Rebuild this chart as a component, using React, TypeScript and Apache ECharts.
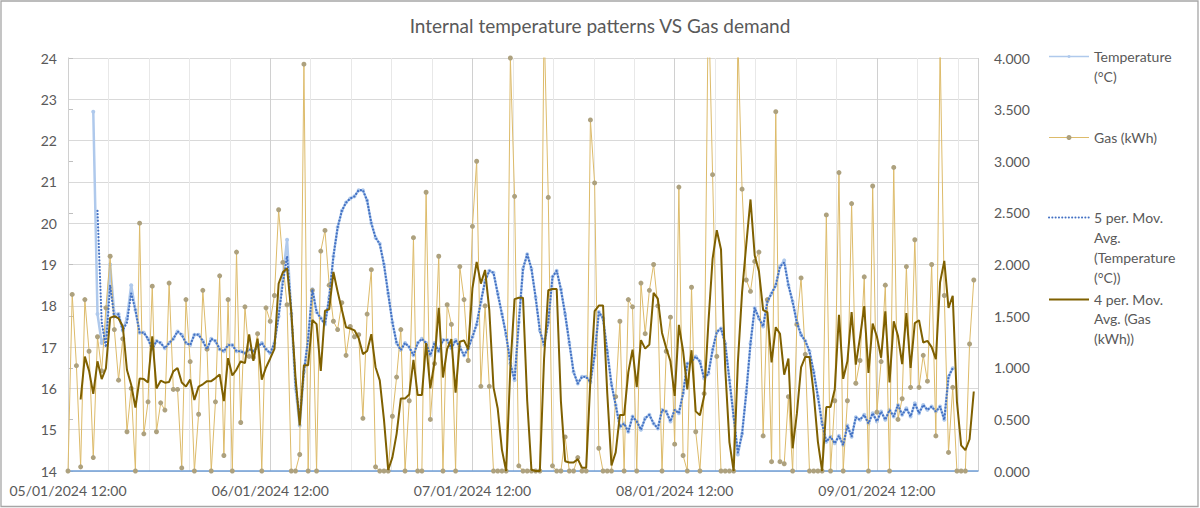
import React, { useEffect, useRef } from "react";
import * as echarts from "echarts";

// ---- data ----
const dayLabels = [
  "05/01/2024 12:00",
  "06/01/2024 12:00",
  "07/01/2024 12:00",
  "08/01/2024 12:00",
  "09/01/2024 12:00",
];
const hoursPerDay = 24;
const stepHours = 0.5; // one reading every 30 minutes
const axisMaxHours = 108;
const minorGridHours = 4.8;

// Gas (kWh), one value per half hour
const gas: number[] = [
  0, 1.71, 1.02, 0.04, 1.66, 1.16, 0.13, 1.3, 0.97, 1.58,
  2.08, 1.37, 0.88, 1.28, 0.38, 0.8, 0, 2.4, 0.36, 0.67,
  1.79, 0.38, 0.66, 0.59, 1.82, 0.79, 0.79, 0.03, 1.66, 1.06,
  0, 0.55, 1.75, 1.18, 0, 0.67, 1.89, 0.15, 1.66, 0,
  2.12, 0.47, 1.59, 1.11, 1.1, 1.33, 0, 1.58, 1.45, 1.7,
  2.53, 2.02, 1.61, 0, 0, 0.16, 3.94, 0, 1.75, 0,
  2.13, 2.33, 1.8, 1.45, 1.37, 1.63, 1.12, 1.4, 1.3, 1.32,
  0.51, 1.52, 1.95, 0.04, 0, 0, 0, 0.53, 0.91, 1.37,
  0, 0.68, 2.26, 0, 0, 2.7, 0.5, 1.04, 2.08, 0,
  1.61, 1.42, 0, 1.98, 1.66, 1.07, 2.37, 3.0, 0.82, 1.6,
  0.82, 0, 0, 0, 0, 4.0, 2.66, 0.05, 0, 0,
  0, 0, 0, 4.35, 2.65, 0.05, 0, 0, 0.33, 0,
  0, 0.13, 0, 0, 3.4, 2.79, 0.22, 0, 0, 0,
  0.72, 1.45, 0, 1.66, 1.59, 0, 1.82, 1.33, 1.75, 2.0,
  1.6, 0, 1.16, 1.49, 0.26, 2.75, 0.15, 0, 1.78, 0.38,
  0, 0.75, 4.6, 2.87, 1.11, 0, 0, 0, 0, 4.2,
  2.73, 1.85, 1.74, 2.03, 2.12, 0.34, 1.66, 0.09, 3.48, 0.09,
  0.07, 0.72, 0, 1.42, 1.87, 1.13, 0, 0, 0, 0,
  2.48, 0, 0.68, 2.89, 0, 0.68, 2.59, 0.85, 1.07, 1.88,
  0, 2.76, 0.57, 1.06, 1.8, 0, 2.94, 0.5, 0.7, 1.98,
  0.81, 2.24, 0.81, 1.12, 0.87, 2.0, 0.34, 4.1, 1.7, 0.18,
  0.81, 0, 0, 0, 1.23, 1.85,
];

// Temperature (°C), same half-hour steps; readings start later
const temperature: (number | null)[] = [
  null, null, null, null, null, null, 22.7, 17.8, 17.1, 17.3,
  19.0, 17.8, 17.8, 17.4, 17.7, 18.5, 17.9, 17.35, 17.35, 17.2,
  16.95, 17.15, 17.1, 16.97, 17.1, 17.2, 17.38, 17.3, 17.1, 17.05,
  17.3, 17.3, 17.15, 16.95, 17.2, 17.15, 16.95, 16.9, 17.05, 17.05,
  16.9, 16.9, 16.85, 16.95, 16.9, 17.0, 17.1, 16.95, 16.85, 17.1,
  17.75, 18.7, 19.6, 17.8, 16.0, 15.1, 16.4, 17.2, 18.4, 17.85,
  17.7, 17.55, 18.2, 19.2, 19.9, 20.3, 20.5, 20.6, 20.65, 20.8,
  20.8, 20.55, 20.0, 19.65, 19.5, 19.0, 18.3, 17.6, 17.1, 16.93,
  17.1, 17.0, 16.8, 17.1, 17.2, 17.1, 16.8, 17.1, 16.9, 17.17,
  17.17, 16.97, 17.17, 17.0, 16.8, 16.97, 17.25, 17.55, 18.1, 18.6,
  18.85, 18.8, 18.3, 17.8, 17.3, 16.6, 16.2, 17.6, 18.9, 19.25,
  18.9, 18.2, 17.4, 17.05, 17.6, 18.7, 18.85, 18.4, 17.8, 17.1,
  16.4, 16.12, 16.28, 16.28, 16.15, 16.8, 17.85, 17.7, 16.9, 16.1,
  15.6, 15.07, 15.15, 14.95, 15.32, 15.2, 15.0, 15.28, 15.36, 15.15,
  15.03, 15.48, 15.44, 15.2, 15.48, 15.4, 15.88, 16.6, 16.65, 16.77,
  16.65, 16.24, 16.36, 16.93, 17.37, 17.45, 17.09, 16.2, 15.32, 14.4,
  14.9, 15.9, 17.09, 17.95, 17.7, 17.5, 18.1, 18.3, 18.5, 18.95,
  19.1, 18.5, 18.1, 17.6, 17.3, 17.15, 16.9, 16.4, 15.8, 15.15,
  14.71, 14.83, 14.67, 14.85, 14.63, 15.1, 14.83, 15.3, 15.24, 15.36,
  15.15, 15.4, 15.2, 15.44, 15.24, 15.48, 15.32, 15.6, 15.36, 15.52,
  15.32, 15.64, 15.4, 15.6, 15.48, 15.56, 15.44, 15.56, 15.24, 16.28,
  16.49,
];

// 5 per. moving average of temperature as drawn in the reference
const temperatureAvg5: (number | null)[] = [
  null, null, null, null, null, null, null, 20.3, 17.6, 17.0,
  18.5, 17.7, 17.8, 17.4, 17.6, 18.3, 17.9, 17.35, 17.35, 17.2,
  16.95, 17.15, 17.1, 16.97, 17.1, 17.2, 17.38, 17.3, 17.1, 17.05,
  17.3, 17.3, 17.15, 16.95, 17.2, 17.15, 16.95, 16.9, 17.05, 17.05,
  16.9, 16.9, 16.85, 16.95, 16.9, 17.0, 17.1, 16.95, 16.85, 17.1,
  17.75, 18.55, 19.2, 17.9, 16.1, 15.3, 16.4, 17.2, 18.4, 17.85,
  17.7, 17.55, 18.2, 19.2, 19.9, 20.3, 20.5, 20.6, 20.65, 20.8,
  20.8, 20.55, 20.0, 19.65, 19.5, 19.0, 18.3, 17.6, 17.1, 16.93,
  17.1, 17.0, 16.8, 17.1, 17.2, 17.1, 16.8, 17.1, 16.9, 17.17,
  17.17, 16.97, 17.17, 17.0, 16.8, 16.97, 17.25, 17.55, 18.1, 18.6,
  18.85, 18.8, 18.3, 17.8, 17.3, 16.6, 16.2, 17.6, 18.9, 19.25,
  18.9, 18.2, 17.4, 17.05, 17.6, 18.7, 18.85, 18.4, 17.8, 17.1,
  16.4, 16.12, 16.28, 16.28, 16.15, 16.8, 17.85, 17.7, 16.9, 16.1,
  15.6, 15.07, 15.15, 14.95, 15.32, 15.2, 15.0, 15.28, 15.36, 15.15,
  15.03, 15.48, 15.44, 15.2, 15.48, 15.4, 15.88, 16.6, 16.65, 16.77,
  16.65, 16.24, 16.36, 16.93, 17.37, 17.45, 17.09, 16.2, 15.32, 14.45,
  14.9, 15.9, 17.09, 17.95, 17.7, 17.5, 18.1, 18.3, 18.5, 18.95,
  19.05, 18.5, 18.1, 17.6, 17.3, 17.15, 16.9, 16.4, 15.8, 15.15,
  14.71, 14.83, 14.67, 14.85, 14.63, 15.1, 14.83, 15.3, 15.24, 15.36,
  15.15, 15.4, 15.2, 15.44, 15.24, 15.48, 15.32, 15.6, 15.36, 15.52,
  15.32, 15.64, 15.4, 15.6, 15.48, 15.56, 15.44, 15.56, 15.24, 16.28,
  16.49,
];

const gasAvgPeriod = 4;

const legendTexts = [
  "Temperature\n(°C)",
  "Gas (kWh)",
  "5 per. Mov.\nAvg.\n(Temperature\n(°C))",
  "4 per. Mov.\nAvg. (Gas\n(kWh))",
];

// ---- styling ----
const FONT = "Lato, 'Open Sans', sans-serif";
const TEXT_COLOR = "#595959";
const TEMP_COLOR = "#AFC9EC";
const GAS_LINE = "#DDBB6A";
const GAS_MARK = "#ADA17E";
const TEMP_AVG_COLOR = "#4472C4";
const GAS_AVG_COLOR = "#7F6000";

function trailingAverage(values: number[], period: number): (number | null)[] {
  return values.map((_, i) => {
    if (i < period - 1) return null;
    let s = 0;
    for (let k = i - period + 1; k <= i; k++) s += values[k];
    return s / period;
  });
}

function toPairs(values: (number | null)[]) {
  const out: [number, number][] = [];
  values.forEach((v, i) => {
    if (v !== null && v !== undefined) out.push([i * stepHours, v]);
  });
  return out;
}

export default function App() {
  const ref = useRef<HTMLDivElement>(null);

  useEffect(() => {
    document.body.style.margin = "0";
    if (!ref.current) return;
    const chart = echarts.init(ref.current, undefined, { renderer: "svg" });

    const gasAvg = trailingAverage(gas, gasAvgPeriod);

    const legendX = 1049;
    const legendLine = (y: number, color: string, extra: any = {}) => ({
      type: "line",
      shape: { x1: legendX, y1: y, x2: legendX + 40, y2: y },
      style: { stroke: color, lineWidth: 1.5, ...extra },
      silent: true,
    });
    const legendText = (y: number, text: string, lh: number) => ({
      type: "text",
      x: 1094,
      y,
      style: {
        text,
        fill: TEXT_COLOR,
        font: `14px ${FONT}`,
        lineHeight: lh,
        verticalAlign: "top",
        align: "left",
      },
      silent: true,
    });

    chart.setOption({
      animation: false,
      backgroundColor: "#ffffff",
      title: {
        text: "Internal temperature patterns VS Gas demand",
        left: "center",
        top: 11,
        textStyle: {
          color: TEXT_COLOR,
          fontSize: 19,
          fontWeight: "normal",
          fontFamily: FONT,
        },
      },
      grid: { left: 68, right: 222, top: 58, bottom: 37, containLabel: false },
      xAxis: [
        {
          type: "value",
          min: 0,
          max: axisMaxHours,
          interval: hoursPerDay,
          position: "bottom",
          z: 3,
          axisLine: { show: true, onZero: false, lineStyle: { color: "#6F9FD8", width: 1.5 } },
          axisTick: { show: false },
          axisLabel: {
            color: TEXT_COLOR,
            fontSize: 14,
            fontFamily: FONT,
            margin: 12,
            formatter: (v: number) => {
              const d = v / hoursPerDay;
              return Number.isInteger(d) && dayLabels[d] ? dayLabels[d] : "";
            },
          },
          splitLine: { show: true, lineStyle: { color: "#D0D0D0", width: 1 } },
        },
        {
          type: "value",
          min: 0,
          max: axisMaxHours,
          interval: minorGridHours,
          position: "bottom",
          z: 1,
          axisLine: { show: false },
          axisTick: { show: false },
          axisLabel: { show: false },
          splitLine: { show: true, lineStyle: { color: "#E8E8E8", width: 1 } },
        },
      ],
      yAxis: [
        {
          type: "value",
          min: 14,
          max: 24,
          interval: 1,
          position: "left",
          axisLine: { show: false },
          axisTick: { show: false },
          axisLabel: { color: TEXT_COLOR, fontSize: 14, fontFamily: FONT, margin: 11 },
          splitLine: { show: true, lineStyle: { color: "#D9D9D9", width: 1 } },
        },
        {
          type: "value",
          min: 0,
          max: 4,
          interval: 0.5,
          position: "right",
          axisLine: { show: true, lineStyle: { color: "#BFBFBF", width: 1 } },
          axisTick: { show: true, inside: false, length: 5, lineStyle: { color: "#BFBFBF" } },
          axisLabel: {
            color: TEXT_COLOR,
            fontSize: 14,
            fontFamily: FONT,
            margin: 16,
            formatter: (v: number) => v.toFixed(3),
          },
          splitLine: { show: false },
        },
      ],
      series: [
        {
          name: "Temperature (°C)",
          type: "line",
          xAxisIndex: 0,
          yAxisIndex: 0,
          data: toPairs(temperature),
          symbol: "circle",
          symbolSize: 4,
          showSymbol: true,
          itemStyle: { color: TEMP_COLOR },
          lineStyle: { color: TEMP_COLOR, width: 2.5 },
          z: 2,
        },
        {
          name: "Gas (kWh)",
          type: "line",
          xAxisIndex: 0,
          yAxisIndex: 1,
          data: toPairs(gas),
          symbol: "circle",
          symbolSize: 5,
          showSymbol: true,
          itemStyle: { color: GAS_MARK },
          lineStyle: { color: GAS_LINE, width: 1 },
          z: 3,
        },
        {
          name: "5 per. Mov. Avg. (Temperature (°C))",
          type: "line",
          xAxisIndex: 0,
          yAxisIndex: 0,
          data: toPairs(temperatureAvg5),
          symbol: "none",
          lineStyle: { color: TEMP_AVG_COLOR, width: 2.2, type: [0.1, 3.2], cap: "round" },
          z: 4,
        },
        {
          name: "4 per. Mov. Avg. (Gas (kWh))",
          type: "line",
          xAxisIndex: 0,
          yAxisIndex: 1,
          data: toPairs(gasAvg),
          symbol: "none",
          lineStyle: { color: GAS_AVG_COLOR, width: 2 },
          z: 5,
        },
      ],
      graphic: [
        {
          type: "rect",
          shape: { x: 1, y: 1, width: 1197, height: 505.5 },
          style: { fill: "none", stroke: "#A6A6A6", lineWidth: 1.3 },
          silent: true,
          z: -10,
        },
        legendLine(56.5, TEMP_COLOR),
        { type: "circle", shape: { cx: legendX + 20, cy: 56.5, r: 1.5 }, style: { fill: TEMP_COLOR }, silent: true },
        legendText(46, legendTexts[0], 20),
        legendLine(137.5, GAS_LINE, { lineWidth: 1 }),
        { type: "circle", shape: { cx: legendX + 20, cy: 137.5, r: 2.5 }, style: { fill: GAS_MARK }, silent: true },
        legendText(127.5, legendTexts[1], 20),
        legendLine(217.5, TEMP_AVG_COLOR, { lineWidth: 2, lineDash: [0.1, 3.2], lineCap: "round" }),
        legendText(207.5, legendTexts[2], 20),
        legendLine(299.5, GAS_AVG_COLOR, { lineWidth: 2 }),
        legendText(289.5, legendTexts[3], 19.5),
      ],
    });

    return () => chart.dispose();
  }, []);

  return <div ref={ref} style={{ width: 1200, height: 508 }} />;
}
